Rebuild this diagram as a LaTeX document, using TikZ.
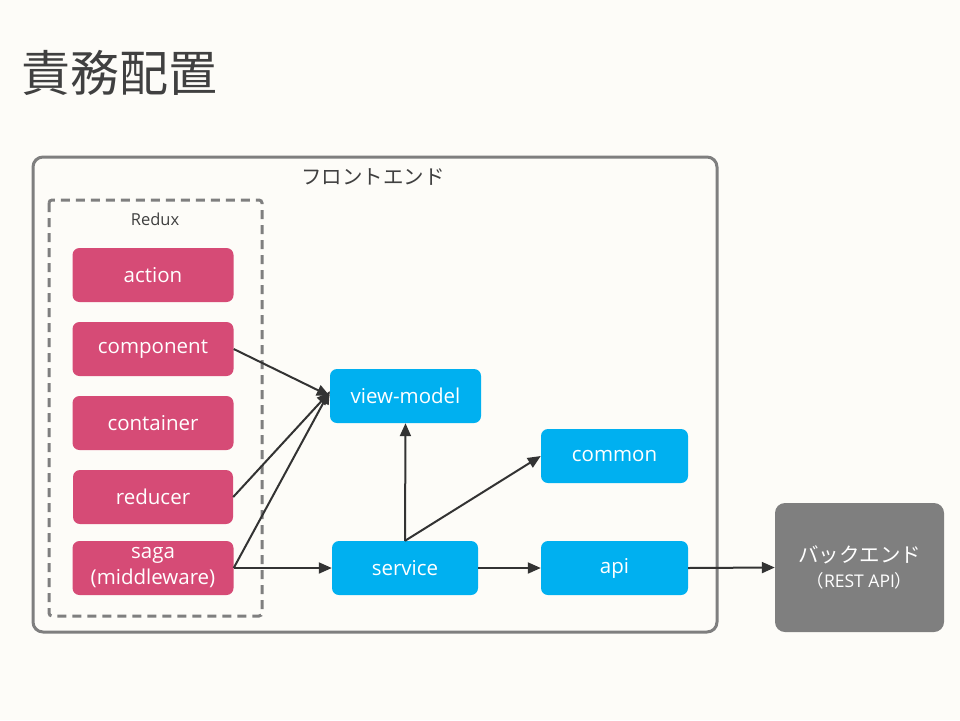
\documentclass[tikz,border=0pt]{standalone}
\usepackage{fontspec}
\setmainfont{Open Sans}
\newfontfamily\jp{Noto Sans CJK JP}
\usetikzlibrary{arrows.meta}
\definecolor{bgc}{HTML}{FDFCF8}
\definecolor{pinkc}{HTML}{D64B76}
\definecolor{bluec}{HTML}{00B0F0}
\definecolor{greyc}{HTML}{7F7F7F}
\definecolor{darkc}{HTML}{404040}
\definecolor{arrc}{HTML}{333333}
\tikzset{
  pinkbox/.style={fill=pinkc, rounded corners=7pt, text=white, font=\fontsize{20.5}{26}\selectfont, align=center},
  bluebox/.style={fill=bluec, rounded corners=7pt, text=white, font=\fontsize{20.5}{24}\selectfont, align=center},
  conn/.style={draw=arrc, line width=2pt, -{Triangle[length=13pt,width=11pt]}},
}
\begin{document}
\begin{tikzpicture}[x=1pt,y=-1pt]
\fill[bgc] (0,0) rectangle (960,720);
\useasboundingbox (0,0) rectangle (960,720);
\node[anchor=west, text=darkc, inner sep=0, font=\jp\fontsize{49}{52}\selectfont] (title) at (21,73) {責務配置};
% frontend
\draw[greyc, line width=3pt, rounded corners=10pt] (33,157) rectangle (717,632);
\node[text=darkc, font=\jp\fontsize{20.5}{24}\selectfont, inner sep=0] (fe) at (373,177) {フロントエンド};
% redux
\draw[greyc, line width=3pt, dashed, dash pattern=on 9pt off 6pt, rounded corners=3pt] (49,200) rectangle (262,616);
\node[text=darkc, font=\fontsize{16.5}{19}\selectfont, inner sep=0] (rx) at (155,219) {Redux};
% pink boxes
\node[pinkbox, minimum width=161pt, minimum height=54pt] (action) at (153,275) {action};
\node[pinkbox, minimum width=161pt, minimum height=54pt] (component) at (153,349) {component};
\node[pinkbox, minimum width=161pt, minimum height=54pt] (container) at (153,423) {container};
\node[pinkbox, minimum width=160pt, minimum height=54pt] (reducer) at (153,497) {reducer};
\node[pinkbox, minimum width=161pt, minimum height=54pt, inner sep=0] (saga) at (153,568) {saga\\(middleware)};
% blue boxes
\node[bluebox, minimum width=151pt, minimum height=54pt] (vm) at (405.5,396) {view-model};
\node[bluebox, minimum width=147pt, minimum height=54pt] (common) at (614.5,456) {common};
\node[bluebox, minimum width=146pt, minimum height=54pt] (service) at (405,568) {service};
\node[bluebox, minimum width=147pt, minimum height=54pt] (api) at (614.5,568) {api};
% backend
\node[fill=greyc, rounded corners=10pt, minimum width=169pt, minimum height=129pt, text=white, align=center, inner sep=0, font=\jp\fontsize{20.5}{24}\selectfont] (be) at (859.5,567.5) {バックエンド\\[1pt]{\fontsize{17.5}{20}\selectfont （\rmfamily REST API\jp ）}};
% connectors
\draw[conn] (component.east) -- (vm.west);
\draw[conn] (reducer.east) -- ([yshift=4pt]vm.west);
\draw[conn] (saga.east) -- ([yshift=5pt]vm.west);
\draw[conn] (saga.east) -- (service.west);
\draw[conn] (service.north) -- (vm.south);
\draw[conn] (service.north) -- (common.west);
\draw[conn] (service.east) -- (api.west);
\draw[conn] (api.east) -- (be.west);
\end{tikzpicture}
\end{document}
